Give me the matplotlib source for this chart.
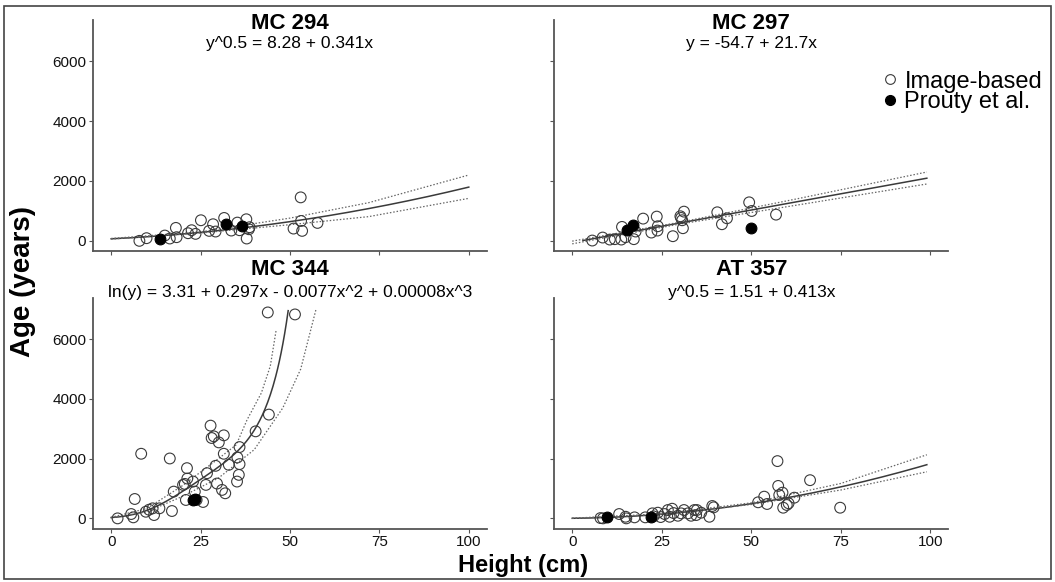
import numpy as np
import matplotlib.pyplot as plt
from matplotlib.lines import Line2D
from matplotlib.patches import Rectangle

plt.rcParams['font.family'] = ['Liberation Sans', 'DejaVu Sans']

# --- MC 294 ---
mc294_img_x = [7.9, 9.9, 15.0, 16.4, 18.1, 18.3, 21.5, 22.5, 23.6, 25.1, 27.4, 28.5, 29.2,
               31.6, 33.6, 35.3, 35.9, 37.8, 38.5, 37.9, 38.7, 51.0, 53.0, 53.1, 53.4, 57.7]
mc294_img_y = [0, 89, 177, 78, 433, 122, 255, 355, 233, 688, 333, 555, 311,
               765, 344, 610, 355, 721, 388, 78, 455, 410, 1453, 665, 333, 599]
mc294_pr_x = [13.6, 32.2, 36.6]
mc294_pr_y = [56, 566, 500]
mc294_ci_x = [0, 25, 50, 72, 100]
mc294_ci_hi = [80, 300, 760, 1275, 2200]
mc294_ci_lo = [58, 262, 540, 809, 1420]

# --- MC 297 ---
mc297_img_x = [5.6, 8.5, 10.5, 11.9, 13.7, 13.9, 14.9, 17.2, 17.7, 19.8, 22.1, 23.6, 23.9,
               23.8, 28.1, 30.4, 30.7, 30.9, 31.2, 30.2, 40.5, 41.8, 43.2, 49.4, 50.1, 56.9]
mc297_img_y = [10, 110, 43, 56, 43, 466, 122, 56, 311, 743, 277, 810, 488,
               344, 155, 765, 688, 422, 976, 821, 954, 555, 754, 1287, 998, 876]
mc297_pr_x = [15.2, 17.1, 49.9]
mc297_pr_y = [377, 521, 433]
mc297_ci_x = [0, 30, 63, 99]
mc297_ci_hi = [-10, 620, 1410, 2300]
mc297_ci_lo = [-100, 560, 1200, 1900]

# --- MC 344 ---
mc344_img_x = [1.8, 5.6, 6.2, 6.6, 8.4, 9.7, 10.6, 11.6, 12.0, 13.5, 16.4, 17.0, 17.5, 20.1,
               20.6, 21.2, 21.3, 20.9, 22.9, 23.4, 23.9, 25.7, 26.5, 26.8, 27.8, 28.1, 28.7,
               29.2, 29.6, 30.1, 31.0, 31.5, 31.5, 31.9, 32.9, 35.2, 35.3, 35.7, 35.9, 35.9,
               40.4, 44.1, 43.8, 51.4]
mc344_img_y = [0, 145, 34, 649, 2164, 222, 289, 336, 111, 336, 2006, 246, 896, 1121,
               1154, 1682, 1334, 616, 1233, 896, 616, 549, 1121, 1513, 3106, 2692, 2747,
               1760, 1166, 2545, 953, 2781, 2164, 840, 1794, 1233, 2040, 1457, 2388, 1817,
               2915, 3476, 6898, 6831]
mc344_pr_x = [22.9, 23.4]
mc344_pr_y = [600, 660]
mc344_hi_x = [0, 10, 20, 30, 35, 38, 42, 44.5, 46.1]
mc344_hi_y = [35, 330, 1100, 2000, 2466, 3300, 4200, 5100, 6280]
mc344_lo_x = [0, 10, 20, 30, 40, 48, 53, 57.3]
mc344_lo_y = [20, 220, 740, 1350, 2300, 3700, 5000, 7010]

# --- AT 357 ---
at357_img_x = [7.9, 8.6, 13.1, 14.9, 15.1, 17.4, 20.4, 22.4, 22.7, 23.9, 24.7, 25.8, 26.7,
               27.2, 27.9, 28.3, 29.5, 30.4, 31.2, 32.3, 33.2, 34.1, 34.6, 34.8, 36.0, 38.3,
               39.1, 39.5, 51.9, 53.6, 54.4, 57.3, 57.5, 57.8, 58.7, 58.9, 59.9, 60.4, 62.0,
               66.4, 74.8]
at357_img_y = [10, 0, 145, 54, 0, 34, 34, 168, 67, 190, 44, 145, 279,
               54, 323, 178, 88, 168, 279, 168, 88, 279, 111, 279, 190, 54,
               414, 370, 538, 727, 481, 1918, 1087, 784, 861, 357, 448, 505, 693,
               1279, 357]
at357_pr_x = [9.7, 22.1]
at357_pr_y = [34, 54]
at357_ci_x = [0, 25, 50, 75, 99]
at357_ci_hi = [5, 150, 520, 1170, 2130]
at357_ci_lo = [0, 135, 465, 950, 1560]

titles = ['MC 294', 'MC 297', 'MC 344', 'AT 357']
equations = ['y^0.5 = 8.28 + 0.341x', 'y = -54.7 + 21.7x',
             'ln(y) = 3.31 + 0.297x - 0.0077x^2 + 0.00008x^3', 'y^0.5 = 1.51 + 0.413x']

GREY = '#3a3a3a'

fig = plt.figure(figsize=(10.55, 5.82), dpi=100)
fig.patches.append(Rectangle((0.004, 0.006), 0.992, 0.983, transform=fig.transFigure,
                             fill=False, edgecolor='#444444', linewidth=1.2))

boxes = [
    [0.0884, 0.5687, 0.3729, 0.3969],
    [0.5254, 0.5687, 0.3735, 0.3969],
    [0.0884, 0.0919, 0.3729, 0.3960],
    [0.5254, 0.0919, 0.3735, 0.3960],
]
axes = [fig.add_axes(b) for b in boxes]

# title / equation heights in figure fraction, top row then bottom row
title_y = [0.9588, 0.9588, 0.5361, 0.5361]
eq_y = [0.9253, 0.9253, 0.4974, 0.4974]


def style(ax, show_x, show_y):
    ax.set_xlim(-5, 105)
    ax.set_ylim(-340, 7380)
    ax.set_xticks([0, 25, 50, 75, 100])
    ax.set_yticks([0, 2000, 4000, 6000])
    for s in ['top', 'right']:
        ax.spines[s].set_visible(False)
    for s in ['left', 'bottom']:
        ax.spines[s].set_color('#555555')
        ax.spines[s].set_linewidth(1.3)
    ax.tick_params(length=3, width=0.8, color='#555555', labelsize=11, pad=2,
                   labelcolor='#111111')
    if not show_x:
        ax.set_xticklabels([])
    if not show_y:
        ax.set_yticklabels([])


def points(ax, ix, iy, px, py):
    ax.scatter(ix, iy, s=60, facecolors='none', edgecolors=GREY, linewidths=0.8, zorder=3)
    ax.scatter(px, py, s=60, facecolors='black', edgecolors='black', linewidths=0.8, zorder=4)


def curve(ax, xs, ys):
    ax.plot(xs, ys, color=GREY, lw=1.1, zorder=2)


def ci(ax, xs, ys):
    ax.plot(xs, ys, color='#666666', lw=0.9, ls=(0, (1.2, 1.5)), zorder=2)


# MC 294
ax = axes[0]
style(ax, False, True)
xx = np.linspace(0, 100, 200)
curve(ax, xx, (8.28 + 0.341 * xx) ** 2)
ci(ax, mc294_ci_x, mc294_ci_hi)
ci(ax, mc294_ci_x, mc294_ci_lo)
points(ax, mc294_img_x, mc294_img_y, mc294_pr_x, mc294_pr_y)

# MC 297
ax = axes[1]
style(ax, False, False)
xx = np.linspace(3, 99, 100)
curve(ax, xx, -54.7 + 21.7 * xx)
ci(ax, mc297_ci_x, mc297_ci_hi)
ci(ax, mc297_ci_x, mc297_ci_lo)
points(ax, mc297_img_x, mc297_img_y, mc297_pr_x, mc297_pr_y)

# MC 344
ax = axes[2]
style(ax, True, True)
xx = np.linspace(0, 49.5, 200)
curve(ax, xx, np.exp(3.31 + 0.297 * xx - 0.0077 * xx ** 2 + 0.00008 * xx ** 3))
ci(ax, mc344_hi_x, mc344_hi_y)
ci(ax, mc344_lo_x, mc344_lo_y)
points(ax, mc344_img_x, mc344_img_y, mc344_pr_x, mc344_pr_y)

# AT 357
ax = axes[3]
style(ax, True, False)
xx = np.linspace(0, 99, 200)
curve(ax, xx, (1.51 + 0.413 * xx) ** 2)
ci(ax, at357_ci_x, at357_ci_hi)
ci(ax, at357_ci_x, at357_ci_lo)
points(ax, at357_img_x, at357_img_y, at357_pr_x, at357_pr_y)

for ax, t, eq, ty, ey in zip(axes, titles, equations, title_y, eq_y):
    cx = ax.get_position().x0 + ax.get_position().width / 2
    fig.text(cx, ty, t, ha='center', va='center', fontsize=16, fontweight='bold')
    fig.text(cx, ey, eq, ha='center', va='center', fontsize=12.5)

fig.text(0.022, 0.517, 'Age (years)', rotation=90, ha='center', va='center',
         fontsize=20, fontweight='bold')
fig.text(0.496, 0.028, 'Height (cm)', ha='center', va='center', fontsize=17, fontweight='bold')

handles = [
    Line2D([], [], ls='none', marker='o', markersize=7, markerfacecolor='none',
           markeredgecolor=GREY, markeredgewidth=0.8),
    Line2D([], [], ls='none', marker='o', markersize=7, markerfacecolor='black',
           markeredgecolor='black'),
]
fig.legend(handles, ['Image-based', 'Prouty et al.'], loc='center left',
           bbox_to_anchor=(0.826, 0.842), frameon=False, fontsize=17, handlelength=0.6,
           handletextpad=0.3, labelspacing=-0.05, borderpad=0)

fig.savefig('out.png', dpi=100)
